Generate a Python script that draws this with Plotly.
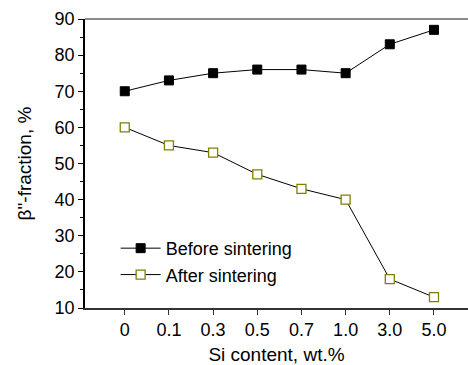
import plotly.graph_objects as go

categories = ["0", "0.1", "0.3", "0.5", "0.7", "1.0", "3.0", "5.0"]
before = [70, 73, 75, 76, 76, 75, 83, 87]
after = [60, 55, 53, 47, 43, 40, 18, 13]
y_ticks = [10, 20, 30, 40, 50, 60, 70, 80, 90]

xi = list(range(len(categories)))
FONT = "Liberation Sans, Arial, sans-serif"

fig = go.Figure()
fig.add_trace(go.Scatter(
    x=xi, y=before, mode="lines+markers", name="Before sintering",
    line=dict(color="black", width=1),
    marker=dict(symbol="square", size=9, color="black", line=dict(color="black", width=1)),
))
fig.add_trace(go.Scatter(
    x=xi, y=after, mode="lines+markers", name="After sintering",
    line=dict(color="black", width=1),
    marker=dict(symbol="square", size=9, color="white", line=dict(color="#808000", width=1.3)),
))

fig.update_layout(
    width=468, height=365,
    margin=dict(l=85, r=0, t=19, b=57),
    paper_bgcolor="white", plot_bgcolor="white",
    font=dict(family=FONT, size=18, color="black"),
    showlegend=True,
    legend=dict(x=0.08, y=0.27, xanchor="left", yanchor="top",
                bgcolor="rgba(0,0,0,0)", font=dict(size=18),
                tracegroupgap=0, itemwidth=40),
)
fig.update_xaxes(
    range=[-0.9, 7.77], tickmode="array", tickvals=xi, ticktext=categories,
    showgrid=False, zeroline=False, showline=True, linecolor="#333", linewidth=1.5,
    ticks="outside", ticklen=5, tickcolor="#333",
    title=dict(text="Si content, wt.%", font=dict(size=19), standoff=9),
)
fig.update_yaxes(
    range=[10, 90], tickmode="array", tickvals=y_ticks,
    showgrid=False, zeroline=False, showline=True, linecolor="black", linewidth=1.5,
    ticks="outside", ticklen=5, tickcolor="black",
    minor=dict(ticks="outside", ticklen=3, dtick=5, tickcolor="black", showgrid=False),
    title=dict(text="β\"-fraction, %", font=dict(size=19), standoff=18),
)
fig.add_shape(type="line", xref="paper", yref="paper", x0=0, x1=1, y0=1, y1=1,
              line=dict(color="#666", width=1.5))

fig.write_html("out.html")
